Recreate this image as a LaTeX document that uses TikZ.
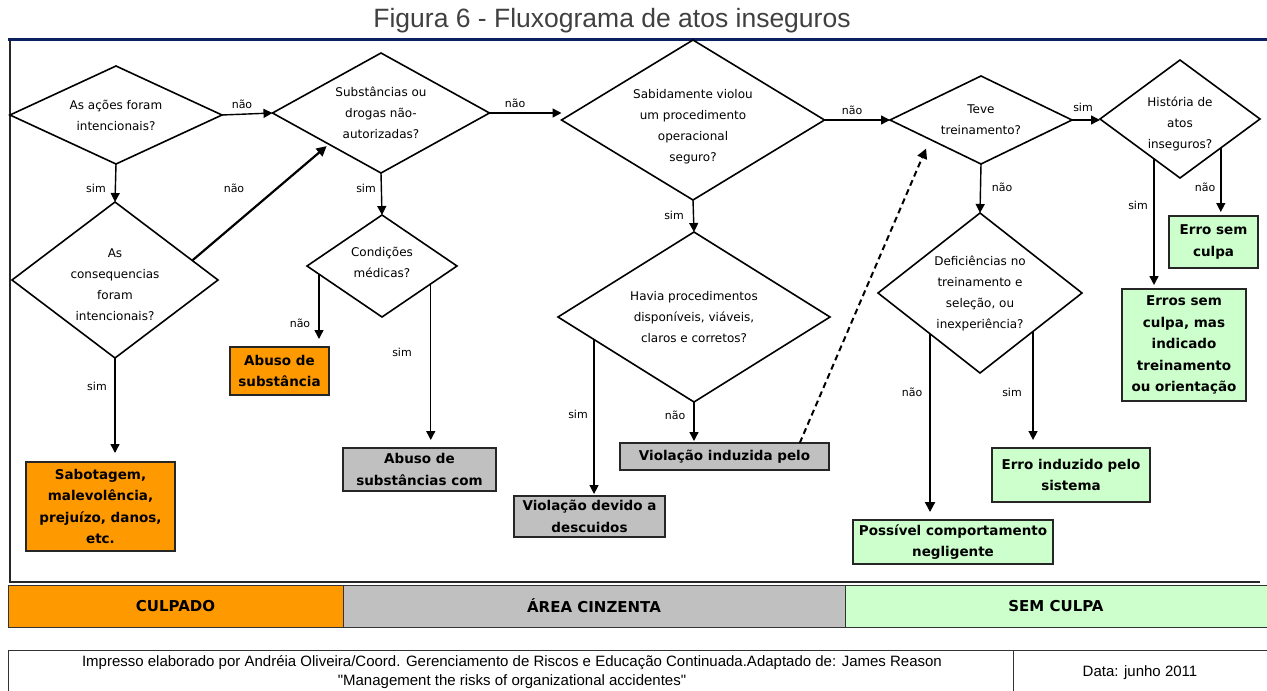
\documentclass[tikz,border=0pt]{standalone}
\usepackage{fontspec}
\usetikzlibrary{arrows.meta,shapes.geometric,calc}
\newfontfamily\qfont{DejaVu Sans}
\newfontfamily\ttlfont{Liberation Sans}
\definecolor{orng}{HTML}{FF9900}
\definecolor{cgray}{HTML}{C0C0C0}
\definecolor{cgreen}{HTML}{CCFFCC}
\definecolor{navy}{HTML}{0B2160}
\begin{document}
\begin{tikzpicture}[x=1pt,y=-1pt,
 dia/.style={draw, diamond, line width=1.6pt, inner sep=0pt, outer sep=0pt},
 qtxt/.style={font=\qfont\fontsize{12}{21}\selectfont, align=center, inner sep=0pt},
 res/.style={draw=black!85, line width=1.4pt, font=\qfont\bfseries\fontsize{13.5}{21.5}\selectfont, align=center, inner sep=0pt, outer sep=0pt, anchor=north west},
 arr/.style={line width=1.4pt, -{Triangle[length=9pt,width=9pt]}},
 thickarr/.style={line width=2.2pt, -{Triangle[length=10pt,width=10pt]}},
 dasharr/.style={line width=2pt, dash pattern=on 6pt off 4pt, -{Triangle[length=10pt,width=10pt]}},
 lbl/.style={font=\qfont\fontsize{11}{11}\selectfont, inner sep=0pt},
 band/.style={draw=black!80, line width=1pt, inner sep=0pt, outer sep=0pt, anchor=north west, font=\qfont\bfseries\fontsize{15}{15}\selectfont},
]
\useasboundingbox (0,0) rectangle (1267,691);
% title
\node[font=\ttlfont\fontsize{26.5}{26.5}\selectfont, text=black!75] (title) at (612,21) {Figura 6 - Fluxograma de atos inseguros};
% frame
\draw[line width=2pt, black!85] (10,39) -- (10,582) -- (1260,582);
\draw[line width=3pt, navy] (8,39) -- (1267,39);

% diamonds
\node[dia, minimum width=212, minimum height=98] (d1) at (116,115) {};
\node[dia, minimum width=217, minimum height=120] (d2) at (381,113) {};
\node[dia, minimum width=263, minimum height=160] (d3) at (693,120) {};
\node[dia, minimum width=182, minimum height=88] (d4) at (981,120) {};
\node[dia, minimum width=160, minimum height=118] (d5) at (1180,119) {};
\node[dia, minimum width=206, minimum height=156] (d6) at (115,280) {};
\node[dia, minimum width=150, minimum height=102] (d7) at (382,266) {};
\node[dia, minimum width=272, minimum height=170] (d8) at (694,317) {};
\node[dia, minimum width=204, minimum height=160] (d9) at (980,293) {};

\node[qtxt] (t1) at (d1) {As ações foram\\intencionais?};
\node[qtxt] (t2) at (d2) {Substâncias ou\\drogas não-\\autorizadas?};
\node[qtxt] (t3) at ($(d3)+(0,7)$) {Sabidamente violou\\um procedimento\\operacional\\seguro?};
\node[qtxt] (t4) at (d4) {Teve\\treinamento?};
\node[qtxt] (t5) at ($(d5)+(0,5)$) {História de\\atos\\inseguros?};
\node[qtxt] (t6) at ($(d6)+(0,5)$) {As\\consequencias\\foram\\intencionais?};
\node[qtxt] (t7) at ($(d7)+(0,-4)$) {Condições\\médicas?};
\node[qtxt] (t8) at (d8) {Havia procedimentos\\disponíveis, viáveis,\\claros e corretos?};
\node[qtxt] (t9) at (d9) {Deficiências no\\treinamento e\\seleção, ou\\inexperiência?};

% result boxes
\node[res, fill=orng, minimum width=149, minimum height=89] (b1) at (26,462) {Sabotagem,\\malevolência,\\prejuízo, danos,\\etc.};
\node[res, fill=orng, minimum width=99, minimum height=48] (b2) at (230,347) {Abuso de\\substância};
\node[res, fill=cgray, minimum width=153, minimum height=43] (b3) at (343,448) {Abuso de\\substâncias com};
\node[res, fill=cgray, minimum width=151, minimum height=41] (b4) at (514,496) {Violação devido a\\descuidos};
\node[res, fill=cgray, minimum width=209, minimum height=27] (b5) at (620,443) {Violação induzida pelo};
\node[res, fill=cgreen, minimum width=158, minimum height=54] (b6) at (992,448) {Erro induzido pelo\\sistema};
\node[res, fill=cgreen, minimum width=200, minimum height=44] (b7) at (853,520) {Possível comportamento\\negligente};
\node[res, fill=cgreen, minimum width=89, minimum height=52] (b8) at (1169,216) {Erro sem\\culpa};
\node[res, fill=cgreen, minimum width=124, minimum height=112] (b9) at (1122,289) {Erros sem\\culpa, mas\\indicado\\treinamento\\ou orientação};

% connectors
\draw[arr] (d1.east) -- (d2.west);
\draw[arr] (d1.south) -- (d6.north);
\draw[thickarr, shorten >=3pt] ($(d6.north)!0.75!(d6.east)$) -- ($(d2.west)!0.52!(d2.south)$);
\draw[arr] (d2.south) -- (d7.north);
\draw[arr] (d2.east) -- (d2.east -| d3.west);
\draw[arr] (d3.east) -- (d4.west);
\draw[arr] (d4.east) -- (d4.east -| d5.west);
\draw[arr] (d3.south) -- (d8.north);
\draw[arr] (d4.south) -- (d9.north);
\coordinate (p7l) at ($(d7.west)!0.16!(d7.south)$);
\draw[arr, shorten >=8pt] (p7l) -- (p7l |- b2.north);
\coordinate (p7r) at ($(d7.east)!0.35!(d7.south)$);
\draw[arr, shorten >=8pt] (p7r) -- (p7r |- b3.north);
\draw[arr, shorten >=9pt] (d6.south) -- (d6.south |- b1.north);
\coordinate (p8l) at ($(d8.west)!0.265!(d8.south)$);
\draw[arr, shorten >=2pt] (p8l) -- (p8l |- b4.north);
\draw[arr, shorten >=2pt] (d8.south) -- (d8.south |- b5.north);
\coordinate (p5d) at ($(b5.north west)!0.86!(b5.north east)$);
\draw[dasharr, shorten >=10pt] (p5d) -- ($(d4.west)!0.44!(d4.south)$);
\coordinate (p9l) at ($(d9.west)!0.51!(d9.south)$);
\draw[thickarr, shorten >=8pt] (p9l) -- (p9l |- b7.north);
\coordinate (p9r) at ($(d9.east)!0.48!(d9.south)$);
\draw[arr, shorten >=8pt] (p9r) -- (p9r |- b6.north);
\coordinate (p5l) at ($(d5.west)!0.675!(d5.south)$);
\draw[arr, shorten >=4pt] (p5l) -- (p5l |- b9.north);
\coordinate (p5r) at ($(d5.east)!0.49!(d5.south)$);
\draw[arr, shorten >=4pt] (p5r) -- (p5r |- b8.north);

% connector labels
\node[lbl] (l1) at (242,104) {não};
\node[lbl] (l2) at (96,188) {sim};
\node[lbl] (l3) at (234,188) {não};
\node[lbl] (l4) at (366,188) {sim};
\node[lbl] (l5) at (515,103) {não};
\node[lbl] (l6) at (852,110) {não};
\node[lbl] (l7) at (1083,107) {sim};
\node[lbl] (l8) at (674,215) {sim};
\node[lbl] (l9) at (1002,187) {não};
\node[lbl] (l10) at (300,323) {não};
\node[lbl] (l11) at (402,352) {sim};
\node[lbl] (l12) at (97,386) {sim};
\node[lbl] (l13) at (578,414) {sim};
\node[lbl] (l14) at (675,415) {não};
\node[lbl] (l16) at (912,392) {não};
\node[lbl] (l17) at (1012,392) {sim};
\node[lbl] (l18) at (1138,205) {sim};
\node[lbl] (l19) at (1205,187) {não};

% legend band
\node[band, fill=orng, minimum width=335, minimum height=42] (c1) at (8,585) {CULPADO};
\node[band, fill=cgray, minimum width=502, minimum height=42] (c2) at (343,585) {ÁREA CINZENTA};
\node[band, fill=cgreen, minimum width=422, minimum height=42] (c3) at (845,585) {SEM CULPA};

% footer
\draw[line width=1pt, black!80] (1267,650) -- (8,650) -- (8,691);
\draw[line width=1pt, black!80] (1013,650) -- (1013,691);
\node[font=\ttlfont\fontsize{15}{18.5}\selectfont, align=center, anchor=north] (f1) at (512,652) {Impresso elaborado por Andréia Oliveira/Coord. Gerenciamento de Riscos e Educação Continuada.Adaptado de: James Reason\\"Management the risks of organizational accidentes"};
\node[font=\ttlfont\fontsize{15}{15}\selectfont] (f2) at (1140,673) {Data: junho 2011};
\end{tikzpicture}
\end{document}
